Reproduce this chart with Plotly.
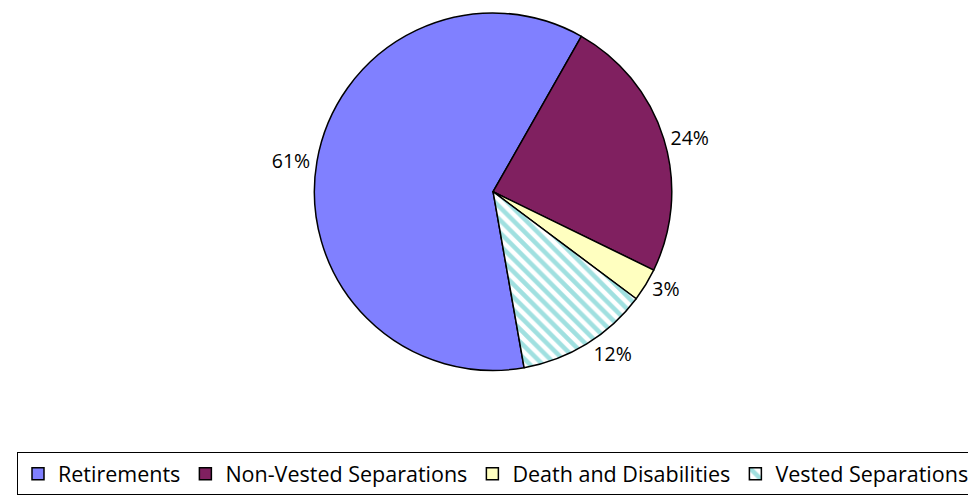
import plotly.graph_objects as go

labels = ["Retirements", "Non-Vested Separations", "Death and Disabilities", "Vested Separations"]
values = [61, 24, 3, 12]
colors = ["#8080FF", "#802060", "#FFFFC0", "#FFFFFF"]

fig = go.Figure(go.Pie(
    labels=labels,
    values=values,
    sort=False,
    direction="clockwise",
    rotation=170,
    textposition="outside",
    texttemplate="%{percent:.0%}",
    textfont=dict(size=19.5, color="black", family="Open Sans"),
    marker=dict(
        colors=colors,
        line=dict(color="black", width=1.5),
        pattern=dict(shape=["", "", "", "\\"], fgcolor="#A0E0E0", bgcolor="#FFFFFF", size=9, solidity=0.5),
    ),
    domain=dict(x=[0.197, 0.797], y=[0.275, 1.0]),
    hoverinfo="skip",
))

fig.update_layout(
    width=976, height=498,
    margin=dict(l=0, r=0, t=0, b=0),
    paper_bgcolor="white",
    plot_bgcolor="white",
    showlegend=True,
    legend=dict(
        orientation="h",
        x=0.5, xanchor="center",
        y=0.022, yanchor="bottom",
        bordercolor="black", borderwidth=1,
        font=dict(size=21.5, color="black", family="Open Sans"),
        itemwidth=30,
        traceorder="normal",
    ),
)

fig.write_html("out.html")
